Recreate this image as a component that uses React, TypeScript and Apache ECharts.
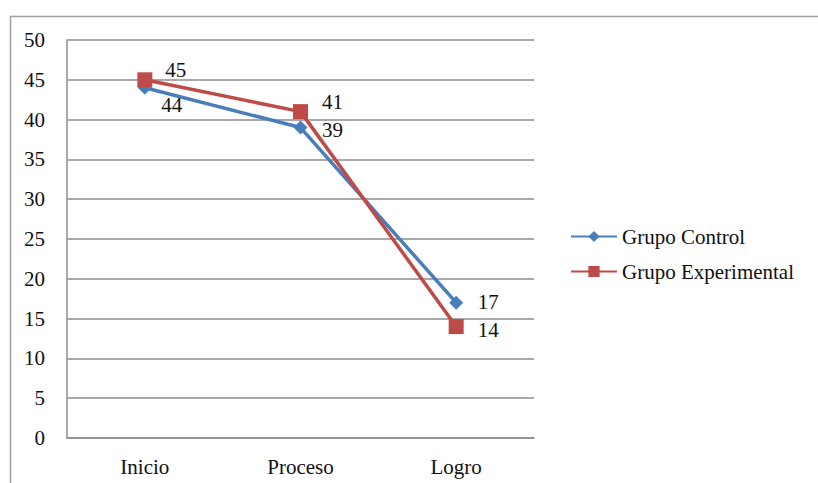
import React, { useEffect, useRef } from "react";
import * as echarts from "echarts";

const categories = ["Inicio", "Proceso", "Logro"];
const controlValues = [44, 39, 17];
const experimentalValues = [45, 41, 14];
const seriesNames = ["Grupo Control", "Grupo Experimental"];
const controlLabelOffsets = [[27, 17], [32, 2], [32, -1]];
const experimentalLabelOffsets = [[31, -10], [32, -10], [32, 3]];

const FONT = "Liberation Serif";

export default function App() {
  const ref = useRef<HTMLDivElement>(null);
  useEffect(() => {
    if (!ref.current) return;
    const chart = echarts.init(ref.current, null, { renderer: "svg" });
    const mk = (vals: number[], offs: number[][]) =>
      vals.map((v, i) => ({
        value: v,
        label: { offset: offs[i] },
      }));
    chart.setOption({
      animation: false,
      backgroundColor: "#ffffff",
      textStyle: { fontFamily: FONT },
      graphic: [
        {
          type: "rect",
          shape: { x: 10.5, y: 16.5, width: 900, height: 600 },
          style: { fill: "none", stroke: "#a0a0a0", lineWidth: 1.5 },
          silent: true,
        },
      ],
      grid: { left: 67, right: 284, top: 40, bottom: 45 },
      legend: {
        orient: "vertical",
        left: 565,
        top: 221,
        itemWidth: 46,
        itemHeight: 14,
        itemGap: 14,
        data: seriesNames,
        textStyle: { fontFamily: FONT, fontSize: 21, color: "#111" },
      },
      xAxis: {
        type: "category",
        data: categories,
        boundaryGap: true,
        axisLine: { lineStyle: { color: "#8c8c8c", width: 1.5 } },
        axisTick: { show: false },
        axisLabel: { margin: 18, fontFamily: FONT, fontSize: 21, color: "#111" },
      },
      yAxis: {
        type: "value",
        min: 0,
        max: 50,
        interval: 5,
        axisLine: { show: true, lineStyle: { color: "#8c8c8c", width: 1.5 } },
        axisTick: { show: false },
        splitLine: { lineStyle: { color: "#8c8c8c", width: 1.5 } },
        axisLabel: { margin: 22, fontFamily: FONT, fontSize: 21, color: "#111" },
      },
      series: [
        {
          name: seriesNames[0],
          type: "line",
          data: mk(controlValues, controlLabelOffsets),
          symbol: "diamond",
          symbolSize: 14,
          color: "#4a7ebb",
          lineStyle: { width: 3.5, color: "#4a7ebb" },
          itemStyle: { color: "#4a7ebb" },
          label: {
            show: true,
            position: "inside",
            fontFamily: FONT,
            fontSize: 21,
            color: "#111",
          },
          z: 2,
        },
        {
          name: seriesNames[1],
          type: "line",
          data: mk(experimentalValues, experimentalLabelOffsets),
          symbol: "rect",
          symbolSize: 15,
          color: "#be4b48",
          lineStyle: { width: 3.5, color: "#be4b48" },
          itemStyle: { color: "#be4b48" },
          label: {
            show: true,
            position: "inside",
            fontFamily: FONT,
            fontSize: 21,
            color: "#111",
          },
          z: 3,
        },
      ],
    });
    return () => chart.dispose();
  }, []);
  return (
    <div
      ref={ref}
      style={{ position: "fixed", left: 0, top: 0, width: 818, height: 483 }}
    />
  );
}
